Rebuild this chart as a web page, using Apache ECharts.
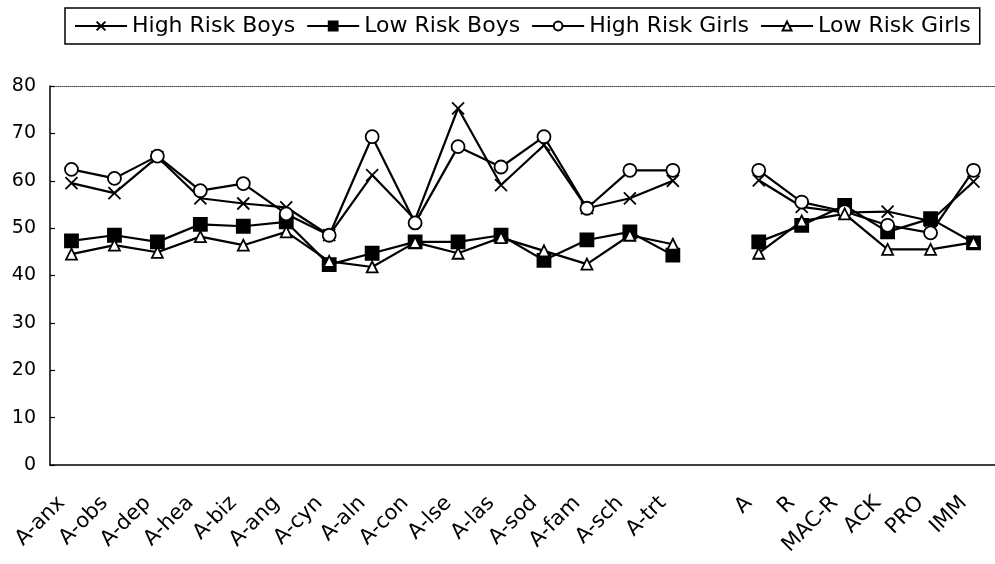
<!DOCTYPE html>
<html>
<head>
<meta charset="utf-8">
<script src="https://cdn.jsdelivr.net/npm/echarts@6/dist/echarts.min.js"></script>
<style>
  html, body { margin: 0; padding: 0; background: #fff; }
  #chart { width: 995px; height: 564px; }
</style>
</head>
<body>
<div id="chart"></div>
<script>
// categories, with an empty slot between the A- scales and the validity scales
const categories = ['A-anx', 'A-obs', 'A-dep', 'A-hea', 'A-biz', 'A-ang', 'A-cyn', 'A-aln', 'A-con',
  'A-lse', 'A-las', 'A-sod', 'A-fam', 'A-sch', 'A-trt', '', 'A', 'R', 'MAC-R', 'ACK', 'PRO', 'IMM'];

const highRiskBoys = [59.5, 57.4, 65, 56.3, 55.2, 54.4, 48.5, 61.2, 51.8, 75.3, 59.1, 67.5, 54.2, 56.3, 60,
  null, 60.1, 54.5, 53.3, 53.5, 51.5, 59.8];
const lowRiskBoys = [47.3, 48.5, 47.1, 50.8, 50.4, 51.3, 42.3, 44.7, 47.1, 47.1, 48.5, 43.2, 47.5, 49.2, 44.3,
  null, 47.1, 50.6, 54.8, 49.2, 52, 46.9];
const highRiskGirls = [62.4, 60.5, 65.2, 57.9, 59.4, 53, 48.5, 69.3, 51.1, 67.2, 62.9, 69.3, 54.2, 62.2, 62.2,
  null, 62.2, 55.5, 53.5, 50.6, 49, 62.2];
const lowRiskGirls = [44.5, 46.4, 44.9, 48.2, 46.4, 49.2, 43, 41.8, 47, 44.7, 48, 45.2, 42.4, 48.5, 46.6,
  null, 44.7, 51.5, 53, 45.5, 45.5, 47];

const yTicks = { min: 0, max: 80, interval: 10 };

const font = "'DejaVu Sans', 'Liberation Sans', sans-serif";
const crossPath = 'path://M0,0L10,10M10,0L0,10';

function makeSeries(name, data, symbol, size, fill) {
  return {
    name: name,
    type: 'line',
    data: data,
    symbol: symbol,
    symbolSize: size,
    connectNulls: false,
    lineStyle: { color: '#000', width: 2.2 },
    itemStyle: { color: fill, borderColor: '#000', borderWidth: 1.8 },
    emphasis: { disabled: true },
  };
}

const chart = echarts.init(document.getElementById('chart'), null, { renderer: 'canvas' });

chart.setOption({
  animation: false,
  backgroundColor: '#fff',
  legend: {
    left: 65,
    top: 8,
    padding: [7, 9],
    itemGap: 11,
    itemWidth: 52,
    itemHeight: 11,
    borderColor: '#000',
    borderWidth: 1.5,
    textStyle: { fontSize: 22, color: '#000', fontFamily: font },
    data: ['High Risk Boys', 'Low Risk Boys', 'High Risk Girls', 'Low Risk Girls'],
  },
  grid: { left: 50, right: -3, top: 86, bottom: 99, containLabel: false },
  xAxis: [
    {
      type: 'category',
      data: categories,
      boundaryGap: true,
      axisLine: { lineStyle: { color: '#000', width: 1.5 } },
      axisTick: { inside: true, length: 5, lineStyle: { color: '#000', width: 1.2 } },
      axisLabel: {
        rotate: 45,
        margin: 25,
        padding: [0, 14, 0, 0],
        interval: 0,
        fontSize: 21,
        color: '#000',
        fontFamily: font,
      },
      splitLine: { show: false },
    },
    {
      type: 'category',
      position: 'top',
      data: categories,
      axisLine: { lineStyle: { color: '#444', width: 1, type: 'dotted' } },
      axisTick: { show: false },
      axisLabel: { show: false },
    },
  ],
  yAxis: {
    type: 'value',
    min: yTicks.min,
    max: yTicks.max,
    interval: yTicks.interval,
    axisLine: { show: true, lineStyle: { color: '#000', width: 1.5 } },
    axisTick: { show: true, inside: true, length: 5, lineStyle: { color: '#000', width: 1.2 } },
    axisLabel: { fontSize: 19, color: '#000', fontFamily: font, margin: 14 },
    splitLine: { show: false },
  },
  series: [
    makeSeries('High Risk Boys', highRiskBoys, crossPath, 12, '#000'),
    makeSeries('Low Risk Boys', lowRiskBoys, 'rect', 13, '#000'),
    makeSeries('High Risk Girls', highRiskGirls, 'circle', 13, '#fff'),
    makeSeries('Low Risk Girls', lowRiskGirls, 'triangle', 11, '#fff'),
  ],
});
</script>
</body>
</html>
